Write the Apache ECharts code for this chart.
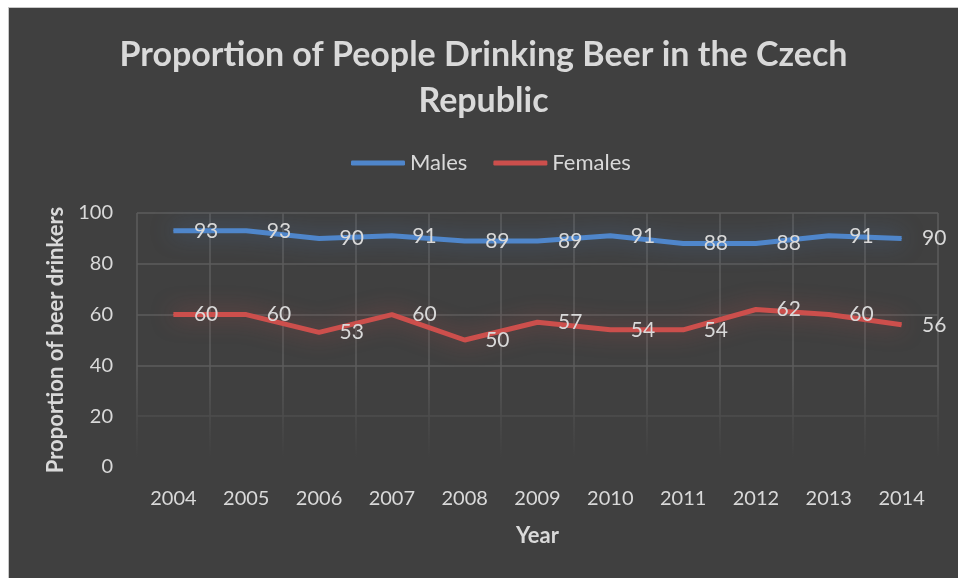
<!DOCTYPE html>
<html><head><meta charset="utf-8">
<script src="https://cdn.jsdelivr.net/npm/echarts@6/dist/echarts.min.js"></script>
<style>
html,body{margin:0;padding:0;background:#fff;width:958px;height:578px;overflow:hidden}
#frame{position:absolute;left:8px;top:7px;width:950px;height:571px;border-left:1px solid #c8c8c8;border-top:1px solid #c8c8c8;background:#404040}
#c{position:absolute;left:0;top:0;width:949px;height:570px}
</style></head>
<body><div id="frame"><div id="c"></div></div>
<script>
const years = ['2004','2005','2006','2007','2008','2009','2010','2011','2012','2013','2014'];
const males = [93,93,90,91,89,89,91,88,88,91,90];
const females = [60,60,53,60,50,57,54,54,62,60,56];
const yTicks = {min:0, max:100, interval:20};

const chart = echarts.init(document.getElementById('c'), null, {renderer:'canvas'});
const txt = '#d9d9d9';
const font = 'Lato, "Open Sans", sans-serif';
function lineSeries(name, data, color, glow){
  return {
    name, type:'line', data, symbol:'circle', symbolSize:1, z:3,
    itemStyle:{color},
    lineStyle:{color, width:5, shadowColor:glow, shadowBlur:22},
    label:{show:true, position:'right', distance:20, color:txt, fontSize:21, fontFamily:font}
  };
}
chart.setOption({
  backgroundColor:'#404040',
  textStyle:{fontFamily:font},
  title:{
    text:'Proportion of People Drinking Beer in the Czech\nRepublic',
    left:'center', top:19,
    textStyle:{color:txt, fontSize:34, fontWeight:'bold', lineHeight:46, fontFamily:font}
  },
  legend:{
    top:139, left:337, itemWidth:54, itemHeight:5, itemGap:26, icon:'roundRect',
    textStyle:{color:txt, fontSize:22, fontFamily:font},
    data:['Males','Females']
  },
  grid:{left:128, right:20, top:205, bottom:111, containLabel:false},
  xAxis:{
    type:'category', data:years, boundaryGap:true,
    axisLine:{show:false}, axisTick:{show:false},
    axisLabel:{color:txt, fontSize:20, margin:22, fontFamily:font},
    splitLine:{show:true, lineStyle:{color:'#5c5c5c', width:1.5}},
    name:'Year', nameLocation:'middle', nameGap:58,
    nameTextStyle:{color:txt, fontSize:22, fontWeight:'bold', fontFamily:font}
  },
  yAxis:{
    type:'value', min:yTicks.min, max:yTicks.max, interval:yTicks.interval,
    axisLine:{show:false}, axisTick:{show:false},
    axisLabel:{color:txt, fontSize:20, margin:24, fontFamily:font},
    splitLine:{lineStyle:{color:'#5c5c5c', width:1.5}},
    name:'Proportion of beer drinkers', nameLocation:'middle', nameGap:70,
    nameTextStyle:{color:txt, fontSize:22, fontWeight:'bold', fontFamily:font}
  },
  graphic:[{
    type:'rect', z:1, silent:true,
    shape:{x:125, y:360, width:810, height:105},
    style:{fill:new echarts.graphic.LinearGradient(0,0,0,1,[
      {offset:0, color:'rgba(64,64,64,0)'},
      {offset:0.85, color:'rgba(64,64,64,1)'},
      {offset:1, color:'rgba(64,64,64,1)'}])}
  }],
  series:[
    lineSeries('Males', males, '#4f86cb', 'rgba(80,135,205,0.55)'),
    lineSeries('Females', females, '#cc4f4c', 'rgba(205,80,76,0.55)')
  ]
});
</script></body></html>
